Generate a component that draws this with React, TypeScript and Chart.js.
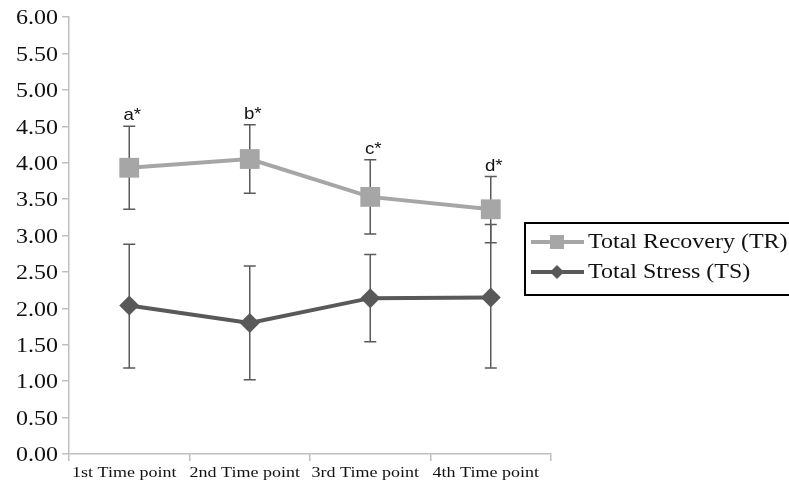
import React, { useEffect, useRef } from 'react';
import { Chart, registerables } from 'chart.js';

Chart.register(...registerables);

const categories = ['1st Time point', '2nd Time point', '3rd Time point', '4th Time point'];
const trMean = [3.93, 4.05, 3.53, 3.36];
const trUpper = [4.5, 4.52, 4.04, 3.81];
const trLower = [3.36, 3.58, 3.02, 2.9];
const tsMean = [2.04, 1.8, 2.14, 2.15];
const tsUpper = [2.88, 2.58, 2.74, 3.15];
const tsLower = [1.18, 1.02, 1.54, 1.18];
const trAnnotations = ['a*', 'b*', 'c*', 'd*'];
const seriesNames = ['Total Recovery (TR)', 'Total Stress (TS)'];

const TR_COLOR = '#A6A6A6';
const TS_COLOR = '#595959';
const ERR_COLOR = '#5a5a5a';
const AXIS_COLOR = '#BFBFBF';
const SERIF = '"Liberation Serif", "Times New Roman", serif';
const STRETCH = 1.2;

function stretchedText(ctx: any, text: string, x: number, y: number, sx: number) {
  ctx.save();
  ctx.translate(x, y);
  ctx.scale(sx, 1);
  ctx.fillText(text, 0, 0);
  ctx.restore();
}

const axisLabelPlugin = {
  id: 'axisLabels',
  afterDraw(chart: any) {
    const { ctx } = chart;
    const x = chart.scales.x;
    const y = chart.scales.y;
    ctx.save();
    ctx.fillStyle = '#111';
    ctx.font = `20px ${SERIF}`;
    ctx.textAlign = 'right';
    ctx.textBaseline = 'middle';
    y.ticks.forEach((t: any, i: number) => {
      const py = y.getPixelForTick(i);
      stretchedText(ctx, String(t.label), y.left + 58 - y.left, py + 2, STRETCH);
    });
    ctx.font = `15px ${SERIF}`;
    ctx.textAlign = 'center';
    ctx.textBaseline = 'alphabetic';
    x.ticks.forEach((t: any, i: number) => {
      const px = x.getPixelForTick(i);
      stretchedText(ctx, String(t.label), px - 5, x.top + 23, STRETCH);
    });
    ctx.restore();
  },
};

const errorBarPlugin = {
  id: 'errorBars',
  beforeDatasetsDraw(chart: any) {
    const { ctx } = chart;
    const x = chart.scales.x;
    const y = chart.scales.y;
    const sets = [
      { up: trUpper, lo: trLower },
      { up: tsUpper, lo: tsLower },
    ];
    ctx.save();
    ctx.strokeStyle = ERR_COLOR;
    ctx.lineWidth = 1.5;
    sets.forEach((s) => {
      categories.forEach((_, i) => {
        const px = x.getPixelForValue(i);
        const top = y.getPixelForValue(s.up[i]);
        const bot = y.getPixelForValue(s.lo[i]);
        ctx.beginPath();
        ctx.moveTo(px, top);
        ctx.lineTo(px, bot);
        ctx.moveTo(px - 6, top);
        ctx.lineTo(px + 6, top);
        ctx.moveTo(px - 6, bot);
        ctx.lineTo(px + 6, bot);
        ctx.stroke();
      });
    });
    ctx.restore();
  },
  afterDatasetsDraw(chart: any) {
    const { ctx } = chart;
    const x = chart.scales.x;
    const y = chart.scales.y;
    ctx.save();
    ctx.fillStyle = '#111';
    ctx.font = '17px "Liberation Sans", Arial, sans-serif';
    ctx.textAlign = 'center';
    ctx.textBaseline = 'alphabetic';
    trAnnotations.forEach((t, i) => {
      const px = x.getPixelForValue(i);
      const top = y.getPixelForValue(trUpper[i]);
      stretchedText(ctx, t, px + 3, top - 6, 1.1);
    });
    ctx.restore();
  },
};

const legendPlugin = {
  id: 'boxLegend',
  afterDraw(chart: any) {
    const { ctx } = chart;
    ctx.save();
    ctx.strokeStyle = '#000';
    ctx.lineWidth = 2;
    ctx.strokeRect(525, 223, 270, 72);
    const rows = [
      { y: 242, color: TR_COLOR, style: 'rect', text: seriesNames[0] },
      { y: 272, color: TS_COLOR, style: 'diamond', text: seriesNames[1] },
    ];
    rows.forEach((r) => {
      ctx.strokeStyle = r.color;
      ctx.lineWidth = 4;
      ctx.beginPath();
      ctx.moveTo(531, r.y);
      ctx.lineTo(584, r.y);
      ctx.stroke();
      ctx.fillStyle = r.color;
      const cx = 557;
      if (r.style === 'rect') {
        ctx.fillRect(cx - 7, r.y - 7, 14, 14);
      } else {
        ctx.beginPath();
        ctx.moveTo(cx, r.y - 7);
        ctx.lineTo(cx + 7, r.y);
        ctx.lineTo(cx, r.y + 7);
        ctx.lineTo(cx - 7, r.y);
        ctx.closePath();
        ctx.fill();
      }
      ctx.fillStyle = '#111';
      ctx.font = `20px ${SERIF}`;
      ctx.textAlign = 'left';
      ctx.textBaseline = 'alphabetic';
      stretchedText(ctx, r.text, 588, r.y + 6, STRETCH);
    });
    ctx.restore();
  },
};

export default function App() {
  const ref = useRef<HTMLCanvasElement>(null);
  useEffect(() => {
    if (!ref.current) return;
    const chart = new Chart(ref.current, {
      type: 'line',
      data: {
        labels: categories,
        datasets: [
          {
            label: seriesNames[0],
            data: trMean,
            borderColor: TR_COLOR,
            backgroundColor: TR_COLOR,
            borderWidth: 4,
            pointStyle: 'rect',
            pointRadius: 14,
            pointBorderWidth: 0,
            pointBackgroundColor: TR_COLOR,
            tension: 0,
          },
          {
            label: seriesNames[1],
            data: tsMean,
            borderColor: TS_COLOR,
            backgroundColor: TS_COLOR,
            borderWidth: 4,
            pointStyle: 'rectRot',
            pointRadius: 10,
            pointBorderWidth: 0,
            pointBackgroundColor: TS_COLOR,
            tension: 0,
          },
        ],
      },
      options: {
        animation: false,
        responsive: false,
        layout: { padding: { top: 17, right: 238, left: 0, bottom: 0 } },
        plugins: {
          legend: { display: false },
          tooltip: { enabled: false },
        },
        scales: {
          x: {
            offset: true,
            grid: {
              offset: true,
              drawOnChartArea: false,
              drawTicks: true,
              tickLength: 7,
              color: AXIS_COLOR,
              lineWidth: 1.5,
            },
            border: { color: AXIS_COLOR, width: 1.5 },
            ticks: { display: false, autoSkip: false },
            afterFit(scale: any) {
              scale.height = 28;
            },
          },
          y: {
            min: 0,
            max: 6,
            grid: {
              drawOnChartArea: false,
              drawTicks: true,
              tickLength: 7,
              color: AXIS_COLOR,
              lineWidth: 1.5,
            },
            border: { color: AXIS_COLOR, width: 1.5 },
            ticks: {
              display: false,
              stepSize: 0.5,
              callback: (v: any) => Number(v).toFixed(2),
            },
            afterFit(scale: any) {
              scale.width = 69;
            },
          },
        },
      },
      plugins: [errorBarPlugin, legendPlugin, axisLabelPlugin],
    });
    return () => chart.destroy();
  }, []);
  return (
    <div style={{ position: 'absolute', left: 0, top: 0, width: 789, height: 482, background: '#fff' }}>
      <canvas ref={ref} width={789} height={482} />
    </div>
  );
}
